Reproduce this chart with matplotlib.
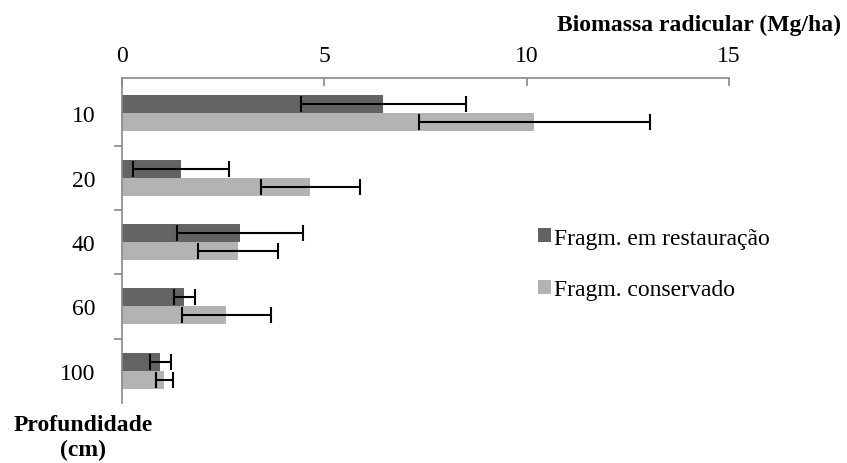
import numpy as np
import matplotlib.pyplot as plt

plt.rcParams['font.family'] = ['Liberation Serif', 'DejaVu Serif']

depths = ['10', '20', '40', '60', '100']
restauracao = [6.46, 1.46, 2.91, 1.54, 0.94]
restauracao_err = [2.03, 1.18, 1.56, 0.26, 0.26]
conservado = [10.19, 4.65, 2.87, 2.58, 1.05]
conservado_err = [2.86, 1.22, 0.98, 1.10, 0.21]

W, H = 847, 464
fig = plt.figure(figsize=(W / 100, H / 100), dpi=100)
ax = fig.add_axes([122 / W, 1 - 404 / H, (729 - 122) / W, (404 - 79) / H])

y = np.arange(len(depths))
h = 0.28
ekw = dict(ecolor='black', elinewidth=1.5, capsize=6, capthick=1.5)
ax.barh(y - h / 2, restauracao, height=h, color='#636363', xerr=restauracao_err,
        error_kw=ekw, label='Fragm. em restauração')
ax.barh(y + h / 2, conservado, height=h, color='#b3b3b3', xerr=conservado_err,
        error_kw=ekw, label='Fragm. conservado')

ax.set_xlim(0, 15)
ax.set_ylim(4.5, -0.55)
ax.xaxis.tick_top()
ax.set_xticks([0, 5, 10, 15])
ax.tick_params(axis='x', direction='in', length=6, width=1.2, color='#888888',
               labelsize=17, pad=9)
ax.set_yticks(y)
ax.set_yticklabels(depths)
ax.set_yticks(np.arange(0.5, 4.5, 1), minor=True)
ax.tick_params(axis='y', which='major', length=0, labelsize=17, pad=19)
ax.tick_params(axis='y', which='minor', length=6, width=1.2, color='#888888')

for s in ['right', 'bottom']:
    ax.spines[s].set_visible(False)
for s in ['top', 'left']:
    ax.spines[s].set_color('#888888')
    ax.spines[s].set_linewidth(1.2)

fig.legend(loc='center left', bbox_to_anchor=(538 / W, 1 - 265 / H), frameon=False,
           fontsize=17, handlelength=0.55, handleheight=0.55, handletextpad=0.12,
           labelspacing=1.3, borderpad=0, borderaxespad=0)

fig.text(841 / W, 1 - 25 / H, 'Biomassa radicular (Mg/ha)', ha='right', va='center',
         fontsize=17, fontweight='bold')
fig.text(83 / W, 1 - 438 / H, 'Profundidade\n(cm)', ha='center', va='center',
         fontsize=17, fontweight='bold', linespacing=1.2)

fig.savefig('out.png', dpi=100)
